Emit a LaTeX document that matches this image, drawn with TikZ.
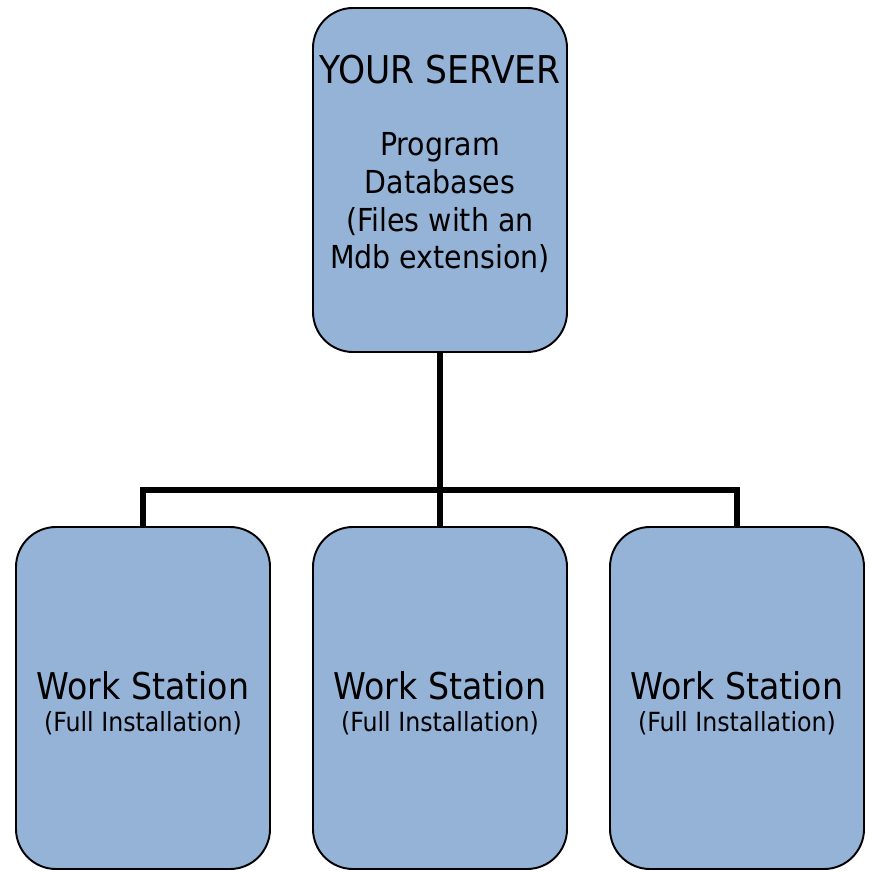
\documentclass[tikz,border=0pt]{standalone}
\usepackage{fontspec}
\setmainfont{DejaVu Sans Condensed}
\usepackage{tikz}
\usetikzlibrary{positioning}
\definecolor{boxblue}{RGB}{149,179,215}
\tikzset{
    srvbox/.style = {rectangle, rounded corners=0.8cm, draw=black, line width=1.1pt, fill=boxblue, minimum width=5.08cm, minimum height=6.88cm},
    wsbox/.style = {rectangle, rounded corners=0.8cm, draw=black, line width=1.1pt, fill=boxblue, minimum width=5.08cm, minimum height=6.84cm},
    bigtxt/.style = {anchor=base, inner sep=0pt, align=center, font=\fontsize{21.8}{26}\selectfont},
    wstxt/.style = {anchor=base, inner sep=0pt, align=center, font=\fontsize{21}{25}\selectfont},
    midtxt/.style = {anchor=base, inner sep=0pt, align=center, font=\fontsize{18}{21.6}\selectfont},
    smalltxt/.style = {anchor=base, inner sep=0pt, align=center, font=\fontsize{15}{18}\selectfont},
    link/.style = {line width=3.6pt, black}
}
\begin{document}
\begin{tikzpicture}
  \useasboundingbox (0,0) rectangle (17.36,-17.42);
  % server
  \node[srvbox] (srv) at (8.8,-3.6) {};
  \node[bigtxt] (srvname) at (8.8,-1.68) {YOUR SERVER};
  \node[midtxt] (srvinfo) at (8.8,-5.38) {Program\\Databases\\(Files with an\\Mdb extension)};
  % work stations
  \node[wsbox] (ws1) at (2.86,-13.96) {};
  \node[wsbox] (ws2) at (8.8,-13.96) {};
  \node[wsbox] (ws3) at (14.74,-13.96) {};
  \node[wstxt] (ws1name) at (2.86,-13.98) {Work Station};
  \node[wstxt] (ws2name) at (8.8,-13.98) {Work Station};
  \node[wstxt] (ws3name) at (14.74,-13.98) {Work Station};
  \node[smalltxt] (ws1info) at (2.86,-14.62) {(Full Installation)};
  \node[smalltxt] (ws2info) at (8.8,-14.62) {(Full Installation)};
  \node[smalltxt] (ws3info) at (14.74,-14.62) {(Full Installation)};
  % connectors
  \coordinate (bus) at (8.8,-9.8);
  \draw[link] (srv.south) -- (bus);
  \draw[link] (ws2.north) -- (bus);
  \draw[link] (ws1.north) |- (bus) -| (ws3.north);
\end{tikzpicture}
\end{document}
